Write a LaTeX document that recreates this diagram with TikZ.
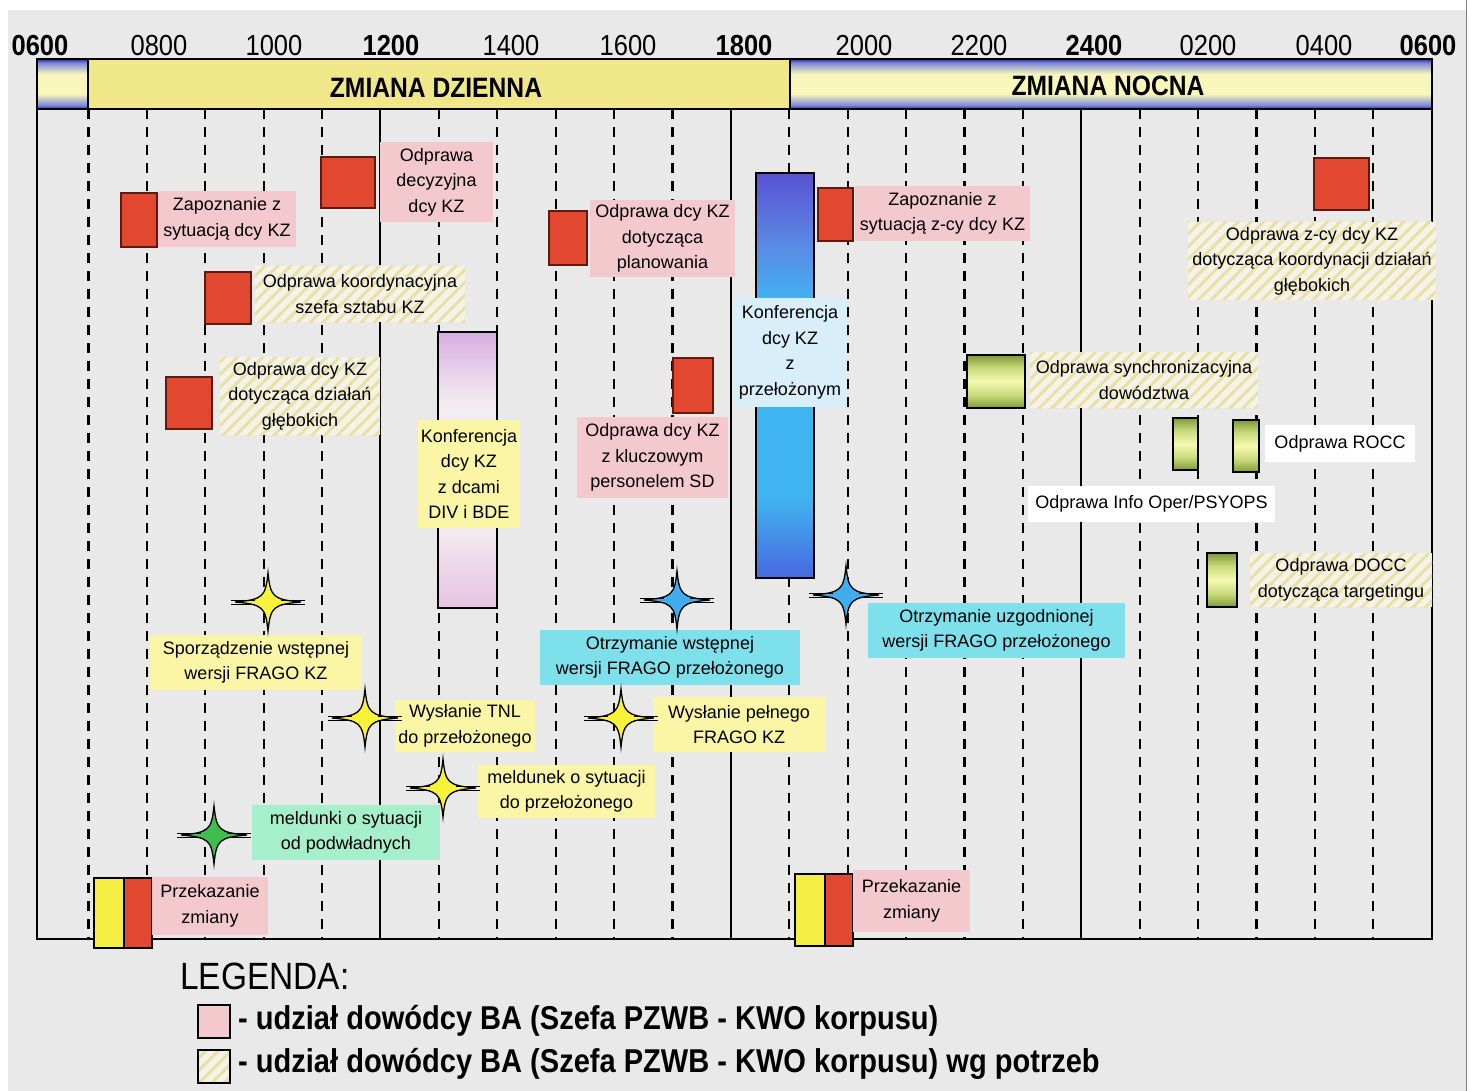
\documentclass[tikz,border=0pt]{standalone}
\usepackage{fontspec}
\setmainfont{Liberation Sans}
\newfontfamily\condfont[FakeStretch=0.88]{Liberation Sans}
\usetikzlibrary{patterns.meta}

% palette
\definecolor{pagebg}{HTML}{E9E9E9}
\definecolor{redfill}{HTML}{E2482F}
\definecolor{redline}{HTML}{5C1A10}
\definecolor{pinkfill}{HTML}{F3C9CE}
\definecolor{yelfill}{HTML}{FBF6A6}
\definecolor{cyanfill}{HTML}{7EE0EA}
\definecolor{mintfill}{HTML}{A6EFCB}
\definecolor{skyfill}{HTML}{D8EEF9}
\definecolor{hatchbg}{HTML}{F5F3E8}
\definecolor{hatchln}{HTML}{E9E0A6}
\definecolor{starY}{HTML}{F8F23A}
\definecolor{starG}{HTML}{3DBE4E}
\definecolor{starB}{HTML}{3FAEEF}
\definecolor{handY}{HTML}{F5EE45}
\definecolor{nbDark}{HTML}{2B2E98}
\definecolor{nbMid}{HTML}{7F8BDB}
\definecolor{nbYel}{HTML}{F8F6BA}
\definecolor{dayEdge}{HTML}{F0E68A}
\definecolor{dayMid}{HTML}{FCF8BE}
\definecolor{gDark}{HTML}{7E9A3A}
\definecolor{gMid}{HTML}{C8DA7A}
\definecolor{gLight}{HTML}{F7F9B2}
\definecolor{lavTop}{HTML}{D8ADE2}
\definecolor{lavMid}{HTML}{F4EDF0}
\definecolor{lavBot}{HTML}{E6C2E2}
\definecolor{blTop}{HTML}{5A52D2}
\definecolor{blUp}{HTML}{5A8AE6}
\definecolor{blMid}{HTML}{40B4F0}
\definecolor{blBot}{HTML}{4868E0}

% shift bands: blue edges, pale yellow middle
\pgfdeclareverticalshading{nightband}{100bp}{color(0bp)=(nbDark); color(25bp)=(nbDark); color(29bp)=(nbMid); color(40bp)=(nbYel); color(60bp)=(nbYel); color(71bp)=(nbMid); color(75bp)=(nbDark); color(100bp)=(nbDark)}
% small briefing boxes: green edges, yellow middle
\pgfdeclareverticalshading{greenshade}{100bp}{color(0bp)=(gDark); color(25bp)=(gDark); color(37bp)=(gMid); color(50bp)=(gLight); color(63bp)=(gMid); color(75bp)=(gDark); color(100bp)=(gDark)}
% conference bars
\pgfdeclareverticalshading{blueshade}{100bp}{color(0bp)=(blBot); color(25bp)=(blBot); color(35bp)=(blMid); color(59bp)=(blMid); color(66bp)=(blUp); color(75bp)=(blTop); color(100bp)=(blTop)}
\pgfdeclareverticalshading{lavshade}{100bp}{color(0bp)=(lavBot); color(25bp)=(lavBot); color(40bp)=(lavMid); color(62bp)=(lavMid); color(75bp)=(lavTop); color(100bp)=(lavTop)}

\newcommand\lblfont{\fontsize{18}{25.5}\selectfont}
\newcommand\numfont{\condfont\fontsize{29}{29}\selectfont}

\tikzset{
  box/.style n args={2}{minimum width=#1pt, minimum height=#2pt},
  redsq/.style={draw=redline, line width=1.6pt, fill=redfill, inner sep=0pt},
  greensq/.style={draw=black, line width=1.6pt, shading=greenshade, inner sep=0pt},
  lbl/.style={inner sep=0pt, align=center, font=\lblfont, text=black},
  pinklbl/.style={lbl, fill=pinkfill},
  yellbl/.style={lbl, fill=yelfill},
  cyanlbl/.style={lbl, fill=cyanfill},
  mintlbl/.style={lbl, fill=mintfill},
  skylbl/.style={lbl, fill=skyfill},
  whitelbl/.style={lbl, fill=white},
  hatchlbl/.style={lbl, preaction={fill=hatchbg},
    pattern={Lines[angle=45,distance=9pt,line width=3pt]}, pattern color=hatchln},
  hdrnum/.style={font=\numfont, inner sep=0pt},
  griddash/.style={line width=2.2pt, dash pattern=on 10pt off 8pt},
  gridsolid/.style={line width=2pt},
  pics/spark/.style={code={
    \draw[line width=1.3pt, fill=#1]
      (0,-29) .. controls (2.5,-5) and (5,-2.5) .. (33,0)
              .. controls (5,2.5) and (2.5,5) .. (0,29)
              .. controls (-2.5,5) and (-5,2.5) .. (-33,0)
              .. controls (-5,-2.5) and (-2.5,-5) .. cycle;
    \draw[line width=0.9pt] (-37,-2) -- (-13,-2) (-37,2) -- (-13,2)
                            (13,-2) -- (37,-2) (13,2) -- (37,2);
  }},
}

\begin{document}
\begin{tikzpicture}[x=1pt, y=-1pt]
\useasboundingbox (0,0) rectangle (1483,1091);
\fill[white] (0,0) rectangle (1483,1091);
\fill[pagebg] (8,10) rectangle (1466,1091);
\draw[gray, line width=1pt] (1466,0) -- (1466,1091);

% hour grid
\foreach \h in {1,2,3,4,5,7,8,9,10,11,13,14,15,16,17,19,20,21,22,23}
  \draw[griddash] ({30+58.4*\h},109) -- ({30+58.4*\h},939);
\foreach \h in {6,12,18}
  \draw[gridsolid] ({30+58.4*\h},109) -- ({30+58.4*\h},939);
\draw[gridsolid] (37,59) -- (37,939) -- (1432,939) -- (1432,109);

% time scale
\node[hdrnum] (t06a) at (40,46) {\bfseries 0600};
\node[hdrnum] (t08) at (159,46) {0800};
\node[hdrnum] (t10) at (274,46) {1000};
\node[hdrnum] (t12) at (391,46) {\bfseries 1200};
\node[hdrnum] (t14) at (511,46) {1400};
\node[hdrnum] (t16) at (628,46) {1600};
\node[hdrnum] (t18) at (744,46) {\bfseries 1800};
\node[hdrnum] (t20) at (864,46) {2000};
\node[hdrnum] (t22) at (979,46) {2200};
\node[hdrnum] (t24) at (1094,46) {\bfseries 2400};
\node[hdrnum] (t02) at (1208,46) {0200};
\node[hdrnum] (t04) at (1324,46) {0400};
\node[hdrnum] (t06b) at (1428,46) {\bfseries 0600};

% shift bands
\node[draw, line width=2pt, shading=nightband, inner sep=0pt, box={51}{50}] (band0) at (62.5,84) {};
\node[draw, line width=2pt, shading=axis, top color=dayEdge, middle color=dayMid, bottom color=dayEdge,
      inner sep=0pt, box={702}{50}] (bandday) at (439,84) {};
\node[draw, line width=2pt, shading=nightband, inner sep=0pt, box={642}{50}] (bandnight) at (1111,84) {};
\node[font=\condfont\bfseries\fontsize{28}{28}\selectfont, inner sep=0pt] (dayname) at (436,88) {ZMIANA DZIENNA};
\node[font=\condfont\bfseries\fontsize{28}{28}\selectfont, inner sep=0pt] (nightname) at (1108,86) {ZMIANA NOCNA};

% long conferences
\node[draw, line width=2pt, shading=lavshade, inner sep=0pt, box={59}{276}] (conf1) at (467.5,470) {};
\node[draw, line width=2pt, shading=blueshade, inner sep=0pt, box={58}{405}] (conf2) at (785,375.5) {};

% commander briefings
\node[redsq, box={36}{54}] (r1) at (139,220) {};
\node[pinklbl, box={138}{56}] (l1) at (227,219) {Zapoznanie z\\sytuacją dcy KZ};
\node[redsq, box={54}{51}] (r2) at (348,182.5) {};
\node[pinklbl, box={113}{80}] (l2) at (436.5,182) {Odprawa\\decyzyjna\\dcy KZ};
\node[redsq, box={46}{52}] (r3) at (228,298) {};
\node[hatchlbl, box={210}{56}] (l3) at (360,294) {Odprawa koordynacyjna\\szefa sztabu KZ};
\node[redsq, box={46}{52}] (r4) at (189,403) {};
\node[hatchlbl, box={160}{78}] (l4) at (300,396) {Odprawa dcy KZ\\dotycząca działań\\głębokich};
\node[yellbl, box={102}{108}] (l5) at (469,474) {Konferencja\\dcy KZ\\z dcami\\DIV i BDE};
\node[redsq, box={38}{54}] (r6) at (568,238) {};
\node[pinklbl, box={145}{77}] (l6) at (662.5,238.5) {Odprawa dcy KZ\\dotycząca\\planowania};
\node[redsq, box={40}{55}] (r7) at (693,385.5) {};
\node[pinklbl, box={151}{81}] (l7) at (652.5,457.5) {Odprawa dcy KZ\\z kluczowym\\personelem SD};
\node[skylbl, box={114}{109}] (l8) at (790,352.5) {Konferencja\\dcy KZ\\z\\przełożonym};
\node[redsq, box={35}{53}] (r9) at (835.5,214.5) {};
\node[pinklbl, box={175}{55}] (l9) at (942.5,213.5) {Zapoznanie z\\sytuacją z-cy dcy KZ};
\node[redsq, box={55}{52}] (r10) at (1341.5,184) {};
\node[hatchlbl, box={248}{78}] (l10) at (1312,261) {Odprawa z-cy dcy KZ\\dotycząca koordynacji działań\\głębokich};

% staff briefings
\node[greensq, box={58}{53}] (g11) at (996,381.5) {};
\node[hatchlbl, box={228}{56}] (l11) at (1144,380) {Odprawa synchronizacyjna\\dowództwa};
\node[greensq, box={25}{52}] (g12a) at (1185.5,444) {};
\node[greensq, box={26}{52}] (g12b) at (1246,446) {};
\node[whitelbl, box={150}{37}] (l12a) at (1340,443.5) {Odprawa ROCC};
\node[whitelbl, box={247}{36}] (l12b) at (1151.5,504) {Odprawa Info Oper/PSYOPS};
\node[greensq, box={30}{54}] (g13) at (1222,580) {};
\node[hatchlbl, box={182}{54}] (l13) at (1341,580) {Odprawa DOCC\\dotycząca targetingu};

% FRAGO and report milestones
\node[yellbl, box={212}{55}] (l14) at (256,662.5) {Sporządzenie wstępnej\\wersji FRAGO KZ};
\node[yellbl, box={140}{52}] (l15) at (465,726) {Wysłanie TNL\\do przełożonego};
\node[yellbl, box={177}{53}] (l16) at (566.5,791.5) {meldunek o sytuacji\\do przełożonego};
\node[mintlbl, box={188}{55}] (l17) at (346,832.5) {meldunki o sytuacji\\od podwładnych};
\node[cyanlbl, box={260}{55}] (l18) at (670,657.5) {Otrzymanie wstępnej\\wersji FRAGO przełożonego};
\node[cyanlbl, box={257}{55}] (l19) at (996.5,630.5) {Otrzymanie uzgodnionej\\wersji FRAGO przełożonego};
\node[yellbl, box={172}{55}] (l20) at (739,724.5) {Wysłanie pełnego\\FRAGO KZ};

\pic (s14) at (268,602) {spark=starY};
\pic (s15) at (365,718) {spark=starY};
\pic (s16) at (443,788) {spark=starY};
\pic (s17) at (214,835) {spark=starG};
\pic (s18) at (677,600) {spark=starB};
\pic (s19) at (846,595) {spark=starB};
\pic (s20) at (621,718) {spark=starY};

% shift handovers
\node[draw, line width=1.6pt, fill=handY, inner sep=0pt, box={30}{70}] (hy1) at (109,913) {};
\node[redsq, draw=black, box={28}{70}] (hr1) at (138,913) {};
\node[pinklbl, box={116}{58}] (l21) at (210,906) {Przekazanie\\zmiany};
\node[draw, line width=1.6pt, fill=handY, inner sep=0pt, box={30}{72}] (hy2) at (810,910) {};
\node[redsq, draw=black, box={28}{72}] (hr2) at (839,910) {};
\node[pinklbl, box={117}{62}] (l22) at (911.5,901) {Przekazanie\\zmiany};

% legend
\node[anchor=west, inner sep=0pt, font=\condfont\fontsize{38}{38}\selectfont] (legtitle) at (180,976) {LEGENDA:};
\node[draw, line width=1.5pt, fill=pinkfill, inner sep=0pt, box={32}{33}] (key1) at (214,1021.5) {};
\node[anchor=west, inner sep=0pt, font=\condfont\bfseries\fontsize{33}{33}\selectfont] (keytext1) at (238,1021)
  {- udział dowódcy BA (Szefa PZWB - KWO korpusu)};
\node[draw, line width=1.5pt, preaction={fill=hatchbg}, pattern={Lines[angle=45,distance=9pt,line width=3pt]},
      pattern color=hatchln, inner sep=0pt, box={32}{33}] (key2) at (214,1066.5) {};
\node[anchor=west, inner sep=0pt, font=\condfont\bfseries\fontsize{33}{33}\selectfont] (keytext2) at (238,1064)
  {- udział dowódcy BA (Szefa PZWB - KWO korpusu) wg potrzeb};
\end{tikzpicture}
\end{document}
